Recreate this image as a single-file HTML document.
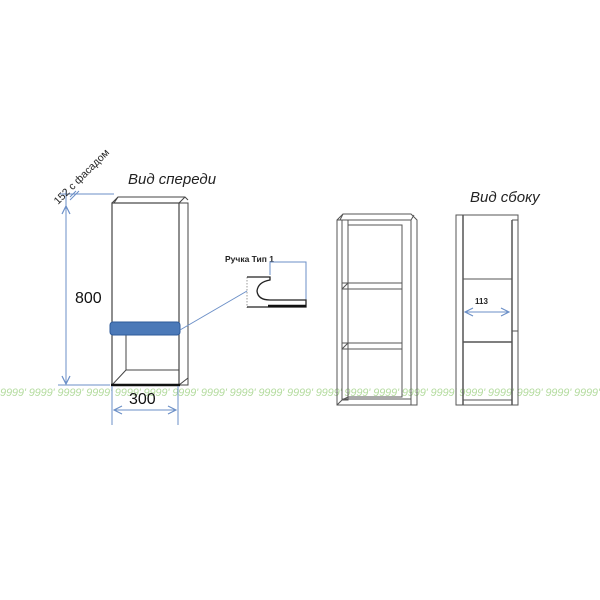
<!DOCTYPE html>
<html><head><meta charset="utf-8"><style>
html,body{margin:0;padding:0;background:#fff;width:600px;height:600px;overflow:hidden}
svg{display:block}
text{font-family:"Liberation Sans",sans-serif}
</style></head><body>
<svg width="600" height="600" viewBox="0 0 600 600" xmlns="http://www.w3.org/2000/svg">
<defs>
<marker id="ar" markerWidth="10" markerHeight="10" refX="9" refY="5" orient="auto-start-reverse" markerUnits="userSpaceOnUse">
<path d="M1,1 L9,5 L1,9" fill="none" stroke="#6b8fc7" stroke-width="1.2"/>
</marker>
</defs>
<!-- watermark -->
<text x="0" y="396" font-size="11" fill="#b5dca0" font-style="italic" textLength="600" lengthAdjust="spacing">9999' 9999' 9999' 9999' 9999' 9999' 9999' 9999' 9999' 9999' 9999' 9999' 9999' 9999' 9999' 9999' 9999' 9999' 9999' 9999' 9999'</text>

<!-- Front view -->
<text x="128" y="184" font-size="15" font-style="italic" fill="#222">Вид спереди</text>
<g stroke="#444" fill="none" stroke-width="1">
<rect x="179" y="203" width="9" height="182"/>
<path d="M112,203 L118,197 L185,197 L188,200 M179,203 L185,197"/>
<path d="M118,197 L114,203"/>
<rect x="112" y="203" width="67" height="182" stroke-width="1.2"/>
<path d="M126,335 L126,370 L179,370 M126,370 L112,385"/>
<path d="M179,385 L188,378"/>
</g>
<line x1="111" y1="385" x2="180" y2="385" stroke="#111" stroke-width="2.5"/>
<rect x="110" y="322" width="70" height="13" rx="3" fill="#4b79b8" stroke="#2d5a9a" stroke-width="1"/>
<!-- dims -->
<g stroke="#6b8fc7" stroke-width="1" fill="none">
<line x1="66" y1="206" x2="66" y2="384" marker-start="url(#ar)" marker-end="url(#ar)"/>
<line x1="58" y1="385" x2="110" y2="385"/>
<line x1="60" y1="194" x2="114" y2="194"/>
<line x1="66" y1="190" x2="66" y2="206"/>
<path d="M70,197 L76,191 M70,200 L79,191"/>
<line x1="112" y1="386" x2="112" y2="425"/>
<line x1="178" y1="386" x2="178" y2="425"/>
<line x1="114" y1="410" x2="176" y2="410" marker-start="url(#ar)" marker-end="url(#ar)"/>
<line x1="180" y1="330" x2="247" y2="291"/>
</g>
<text x="75" y="303" font-size="16" fill="#111">800</text>
<text x="129" y="404" font-size="16" fill="#111">300</text>
<text x="58" y="205" font-size="10.5" fill="#222" transform="rotate(-45 58 205)">152 с фасадом</text>

<!-- handle -->
<text x="225" y="262" font-size="8.5" font-weight="bold" fill="#222">Ручка Тип 1</text>
<g stroke="#6b8fc7" stroke-width="1" fill="none">
<path d="M270,275 L270,262 L306,262 L306,300"/>
</g>
<line x1="247" y1="277" x2="247" y2="308" stroke="#999" stroke-width="1" stroke-dasharray="1.5,1.5"/>
<path d="M247,277 L270,277 L270,280 Q258,282 257,291 Q258,300 270,300 L306,300 L306,307 L247,307" fill="none" stroke="#222" stroke-width="1.3"/>
<line x1="268" y1="306" x2="306" y2="306" stroke="#111" stroke-width="2.5"/>

<!-- Middle cabinet -->
<g stroke="#555" fill="none" stroke-width="1">
<path d="M337,220 L343,214 L411,214 L417,220 L417,405 L337,405 Z"/>
<path d="M337,220 L411,220 M411,220 L411,405 M411,220 L414,215"/>
<path d="M343,214 L340,220"/>
<rect x="348" y="225" width="54" height="172"/>
<rect x="342" y="220" width="6" height="180"/>
<path d="M342,283 L402,283 M342,289 L402,289 M342,343 L402,343 M342,349 L402,349"/>
<path d="M348,283 L342,289 M348,343 L342,349"/>
<path d="M337,405 L343,399 L411,399 M342,400 L348,397"/>
</g>

<!-- Side view -->
<text x="470" y="202" font-size="15" font-style="italic" fill="#222">Вид сбоку</text>
<g stroke="#555" fill="none" stroke-width="1">
<rect x="456" y="215" width="62" height="190"/>
<line x1="463" y1="215" x2="463" y2="405" stroke-width="1.5"/>
<line x1="512" y1="220" x2="512" y2="405" stroke-width="1.5"/>
<path d="M512,220 L518,220 M512,331 L518,331"/>
<line x1="463" y1="279" x2="512" y2="279"/>
<line x1="463" y1="342" x2="512" y2="342" stroke-width="1.5"/>
<line x1="463" y1="400" x2="512" y2="400"/>
</g>
<line x1="465" y1="312" x2="509" y2="312" stroke="#6b8fc7" stroke-width="1" marker-start="url(#ar)" marker-end="url(#ar)"/>
<text x="475" y="304" font-size="8" font-weight="bold" fill="#222">113</text>
</svg>
</body></html>
